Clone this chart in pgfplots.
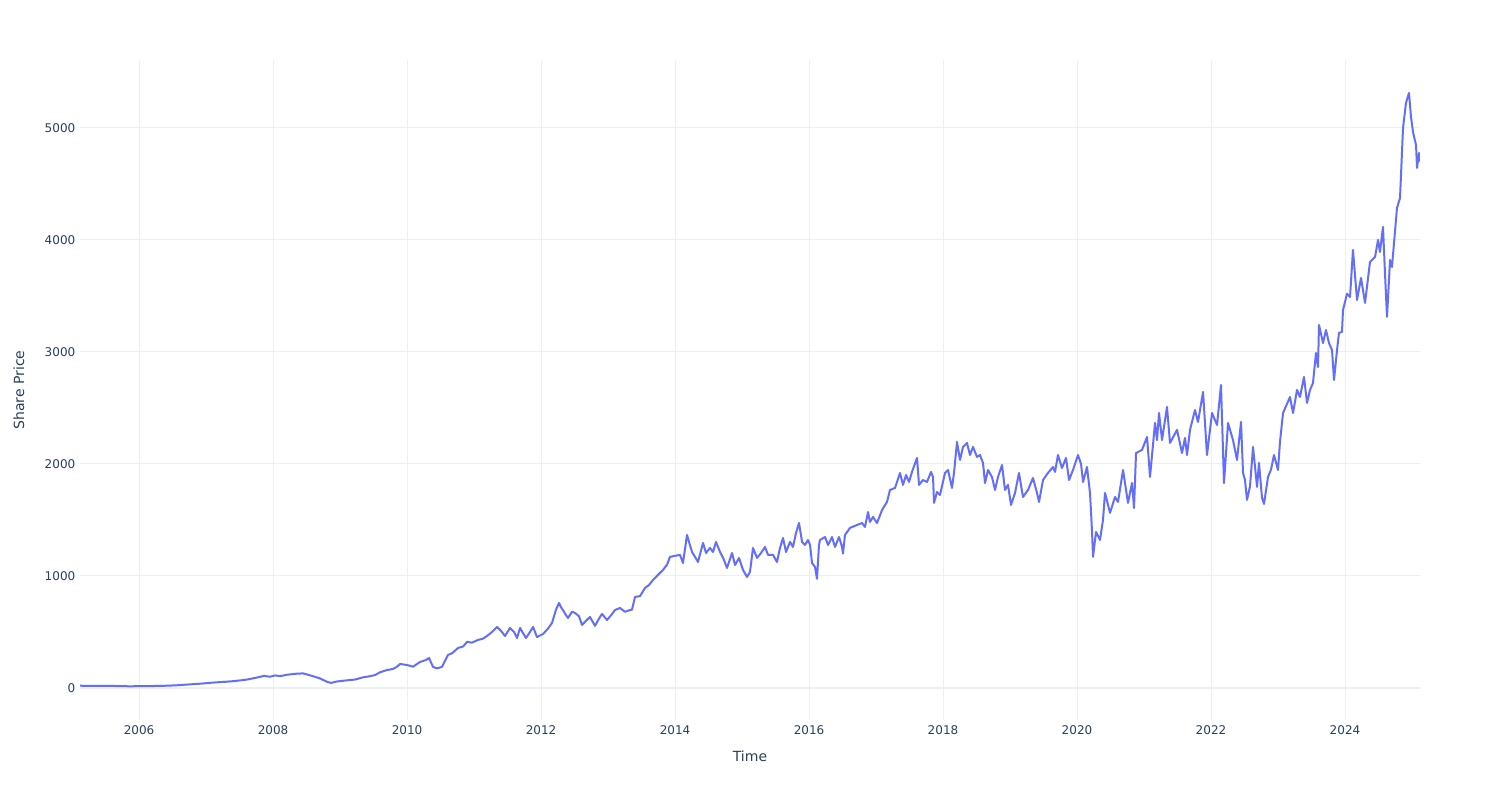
\documentclass[border=0pt]{standalone}
\usepackage{fontspec}
\setmainfont{DejaVu Sans}
\usepackage{pgfplots}
\usepackage{pgfplotstable}
\pgfplotsset{compat=1.18}
\definecolor{plt}{HTML}{636EFA}
\definecolor{gridc}{HTML}{EBF0F8}
\definecolor{txt}{HTML}{2A3F5F}
\pgfplotstableread{
t v
2005.119 20
2005.269 19
2005.418 18
2005.612 18
2005.746 16
2005.866 15
2006.015 16
2006.164 17
2006.358 19
2006.537 23
2006.761 32
2006.910 38
2007.104 48
2007.284 55
2007.433 62
2007.612 75
2007.776 95
2007.866 108
2007.955 100
2008.030 112
2008.104 105
2008.209 118
2008.358 128
2008.448 130
2008.522 118
2008.597 105
2008.701 85
2008.806 55
2008.866 45
2008.955 58
2009.104 68
2009.224 75
2009.343 95
2009.448 105
2009.522 115
2009.597 140
2009.701 160
2009.791 170
2009.851 190
2009.896 214
2010.000 205
2010.090 190
2010.194 232
2010.284 250
2010.328 268
2010.388 188
2010.448 175
2010.522 188
2010.612 295
2010.672 310
2010.761 357
2010.836 370
2010.896 411
2010.970 405
2011.060 429
2011.134 440
2011.194 464
2011.269 500
2011.343 545
2011.403 510
2011.463 464
2011.537 536
2011.597 500
2011.642 446
2011.687 536
2011.731 490
2011.776 446
2011.836 500
2011.881 545
2011.940 455
2012.030 482
2012.104 530
2012.164 580
2012.224 700
2012.269 759
2012.299 720
2012.328 696
2012.373 650
2012.403 625
2012.463 680
2012.507 670
2012.567 640
2012.612 563
2012.672 600
2012.731 634
2012.806 554
2012.866 620
2012.910 661
2012.985 607
2013.060 660
2013.104 696
2013.179 714
2013.254 680
2013.328 696
2013.358 700
2013.403 813
2013.478 820
2013.552 893
2013.612 920
2013.672 964
2013.746 1010
2013.821 1054
2013.881 1100
2013.925 1170
2014.000 1180
2014.075 1188
2014.119 1116
2014.179 1366
2014.254 1214
2014.299 1170
2014.343 1125
2014.418 1295
2014.463 1205
2014.522 1250
2014.567 1214
2014.612 1304
2014.672 1214
2014.731 1143
2014.776 1071
2014.851 1205
2014.896 1098
2014.955 1161
2015.015 1054
2015.075 991
2015.119 1036
2015.164 1250
2015.224 1161
2015.284 1205
2015.343 1259
2015.388 1188
2015.463 1188
2015.522 1125
2015.567 1250
2015.612 1339
2015.657 1214
2015.716 1304
2015.761 1259
2015.806 1384
2015.851 1473
2015.896 1304
2015.940 1277
2015.985 1321
2016.015 1277
2016.045 1116
2016.090 1080
2016.119 975
2016.149 1277
2016.164 1321
2016.239 1348
2016.284 1277
2016.343 1348
2016.388 1259
2016.448 1348
2016.493 1259
2016.507 1200
2016.537 1366
2016.612 1429
2016.716 1455
2016.791 1473
2016.836 1438
2016.881 1571
2016.910 1482
2016.955 1527
2017.015 1473
2017.090 1589
2017.164 1661
2017.209 1768
2017.284 1786
2017.358 1920
2017.403 1813
2017.448 1902
2017.493 1839
2017.537 1929
2017.612 2054
2017.642 1813
2017.701 1857
2017.761 1839
2017.821 1929
2017.851 1884
2017.866 1652
2017.910 1750
2017.955 1723
2018.030 1920
2018.075 1946
2018.134 1786
2018.164 1920
2018.209 2196
2018.254 2036
2018.299 2152
2018.358 2188
2018.403 2080
2018.448 2152
2018.507 2063
2018.552 2080
2018.597 2009
2018.627 1830
2018.672 1946
2018.731 1884
2018.776 1768
2018.821 1884
2018.881 1991
2018.925 1768
2018.970 1813
2019.015 1634
2019.075 1741
2019.134 1920
2019.194 1705
2019.269 1768
2019.343 1875
2019.403 1741
2019.433 1661
2019.493 1857
2019.567 1920
2019.642 1973
2019.672 1929
2019.716 2080
2019.776 1964
2019.836 2054
2019.881 1857
2019.940 1946
2020.015 2080
2020.060 2000
2020.090 1839
2020.149 1973
2020.194 1741
2020.224 1400
2020.239 1170
2020.284 1393
2020.343 1321
2020.388 1500
2020.418 1741
2020.493 1563
2020.567 1705
2020.612 1661
2020.687 1946
2020.761 1652
2020.821 1830
2020.851 1607
2020.881 2098
2020.970 2125
2021.045 2241
2021.090 1884
2021.164 2366
2021.194 2214
2021.224 2455
2021.269 2214
2021.343 2509
2021.388 2188
2021.493 2304
2021.567 2098
2021.612 2232
2021.642 2080
2021.687 2304
2021.761 2482
2021.806 2375
2021.881 2643
2021.940 2080
2022.015 2455
2022.090 2348
2022.149 2705
2022.194 1830
2022.254 2366
2022.328 2214
2022.388 2036
2022.448 2375
2022.478 1920
2022.507 1857
2022.537 1679
2022.582 1800
2022.627 2152
2022.687 1795
2022.716 2009
2022.761 1700
2022.791 1643
2022.851 1884
2022.896 1950
2022.940 2080
2023.000 1946
2023.030 2200
2023.075 2455
2023.179 2598
2023.224 2455
2023.284 2661
2023.328 2598
2023.388 2777
2023.433 2545
2023.478 2661
2023.522 2723
2023.567 2991
2023.597 2866
2023.612 3241
2023.672 3080
2023.716 3196
2023.761 3080
2023.806 3018
2023.836 2750
2023.881 3018
2023.910 3170
2023.955 3179
2023.970 3375
2024.030 3520
2024.075 3491
2024.119 3911
2024.179 3464
2024.239 3661
2024.299 3438
2024.373 3804
2024.448 3848
2024.493 4000
2024.522 3893
2024.567 4116
2024.597 3700
2024.627 3313
2024.672 3821
2024.701 3759
2024.776 4286
2024.821 4375
2024.866 5000
2024.910 5223
2024.955 5313
2024.985 5098
2025.015 4964
2025.060 4848
2025.075 4643
2025.104 4777
2025.119 4700
}\pricedata
\begin{document}
\begin{tikzpicture}
\path[use as bounding box] (0pt,0pt) rectangle (1125pt,600pt);
\begin{axis}[
  at={(60pt,60pt)}, anchor=south west,
  width=1005pt, height=495pt, scale only axis,
  xmin=2005.119, xmax=2025.119, ymin=-286, ymax=5607,
  axis line style={draw=none},
  xtick={2006,2008,...,2024},
  ytick={1000,2000,...,5000},
  extra y ticks={0},
  extra y tick style={major grid style={gridc, line width=1.5pt}},
  grid=major,
  major grid style={gridc, line width=0.75pt},
  major tick length=0pt,
  tick style={draw=none},
  /pgf/number format/1000 sep={},
  /pgf/number format/assume math mode=true,
  ticklabel style={font=\fontsize{9}{10}\selectfont, text=txt},
  xticklabel style={yshift=-1pt},
  xlabel={Time}, ylabel={Share Price},
  xlabel style={at={(axis description cs:0.5,-0.0545)}, anchor=center, font=\fontsize{10.5}{12}\selectfont, text=txt},
  ylabel style={at={(axis description cs:-0.0455,0.5)}, anchor=center, font=\fontsize{10.5}{12}\selectfont, text=txt},
  clip=true,
]
\addplot[plt, line width=1.5pt, line join=round] table[x=t, y=v] {\pricedata};
\end{axis}
\end{tikzpicture}
\end{document}
